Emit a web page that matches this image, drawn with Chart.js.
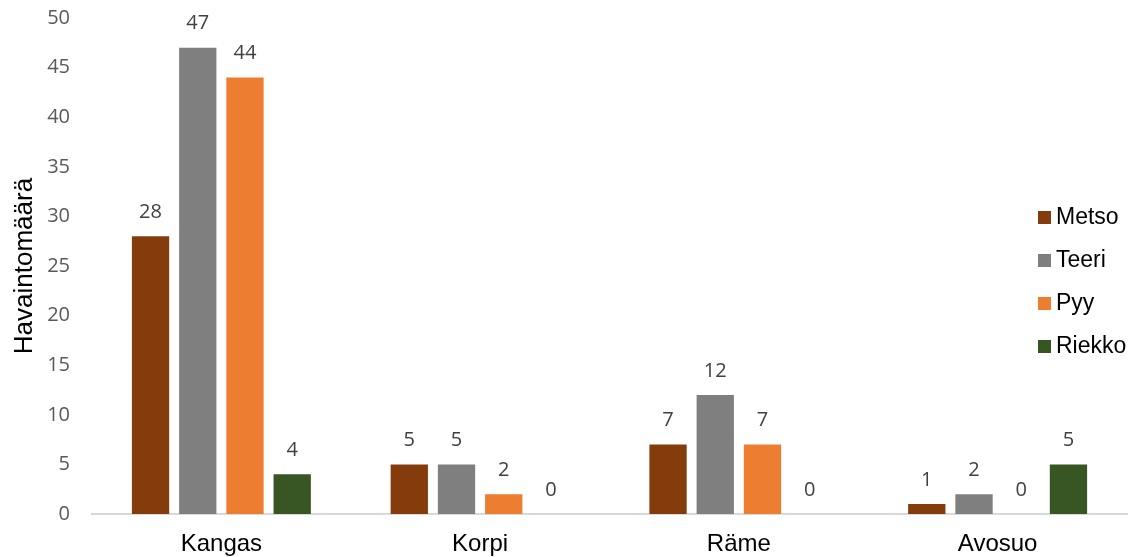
<!DOCTYPE html>
<html>
<head>
<meta charset="utf-8">
<script src="https://cdn.jsdelivr.net/npm/chart.js@4"></script>
<style>
  html, body { margin: 0; padding: 0; background: #fff; }
  #wrap { width: 1138px; height: 557px; }
</style>
</head>
<body>
<div id="wrap"><canvas id="myChart"></canvas></div>
<script>
const categories = ['Kangas', 'Korpi', 'Räme', 'Avosuo'];
const speciesNames = ['Metso', 'Teeri', 'Pyy', 'Riekko'];
const metso = [28, 5, 7, 1];
const teeri = [47, 5, 12, 2];
const pyy = [44, 2, 7, 0];
const riekko = [4, 0, 0, 5];
const colors = ['#843C0C', '#7F7F7F', '#ED7D31', '#375623'];

// value labels above each bar
const barLabels = {
    id: 'barLabels',
    afterDatasetsDraw(chart) {
        const ctx = chart.ctx;
        ctx.save();
        ctx.font = '20px "Open Sans", sans-serif';
        ctx.fillStyle = '#404040';
        ctx.textAlign = 'center';
        ctx.textBaseline = 'middle';
        chart.data.datasets.forEach((ds, i) => {
            chart.getDatasetMeta(i).data.forEach((bar, j) => {
                ctx.fillText(ds.data[j], bar.x, bar.y - 24);
            });
        });
        ctx.restore();
    }
};

// legend drawn over the plot, on the right side
const sideLegend = {
    id: 'sideLegend',
    afterDraw(chart) {
        const ctx = chart.ctx;
        ctx.save();
        ctx.font = '23px "Liberation Sans", Arial, sans-serif';
        ctx.textBaseline = 'middle';
        chart.data.datasets.forEach((ds, i) => {
            const y = 217 + i * 43;
            ctx.fillStyle = ds.backgroundColor;
            ctx.fillRect(1038, y - 6, 13, 13);
            ctx.fillStyle = '#000';
            ctx.fillText(ds.label, 1056, y + 1);
        });
        ctx.restore();
    }
};

const series = [metso, teeri, pyy, riekko];

const ctx = document.getElementById('myChart').getContext('2d');
const chart = new Chart(ctx, {
    type: 'bar',
    data: {
        labels: categories,
        datasets: series.map((d, i) => ({
            label: speciesNames[i],
            data: d,
            backgroundColor: colors[i],
            categoryPercentage: 0.73,
            barPercentage: 0.79
        }))
    },
    options: {
        responsive: true,
        maintainAspectRatio: false,
        animation: false,
        layout: { padding: { top: 18, right: 11, left: 9, bottom: 0 } },
        plugins: {
            legend: { display: false },
            tooltip: { enabled: false }
        },
        scales: {
            x: {
                grid: { display: false },
                border: { display: true, color: '#D9D9D9', width: 2 },
                ticks: {
                    color: '#000',
                    font: { family: '"Liberation Sans", Arial, sans-serif', size: 24 },
                    padding: 8
                },
                afterFit: (scale) => { scale.height = 43; }
            },
            y: {
                min: 0,
                max: 50,
                grid: { display: false },
                border: { display: false },
                ticks: {
                    stepSize: 5,
                    color: '#595959',
                    font: { family: '"Open Sans", sans-serif', size: 20 },
                    padding: 14
                },
                title: {
                    display: true,
                    text: 'Havaintomäärä',
                    color: '#000',
                    font: { family: '"Liberation Sans", Arial, sans-serif', size: 26 },
                    padding: 0
                },
                afterFit: (scale) => {
                    scale.width = 83;
                    scale.paddingTop = 0;
                    scale.paddingBottom = 0;
                }
            }
        }
    },
    plugins: [barLabels, sideLegend]
});
</script>
</body>
</html>
